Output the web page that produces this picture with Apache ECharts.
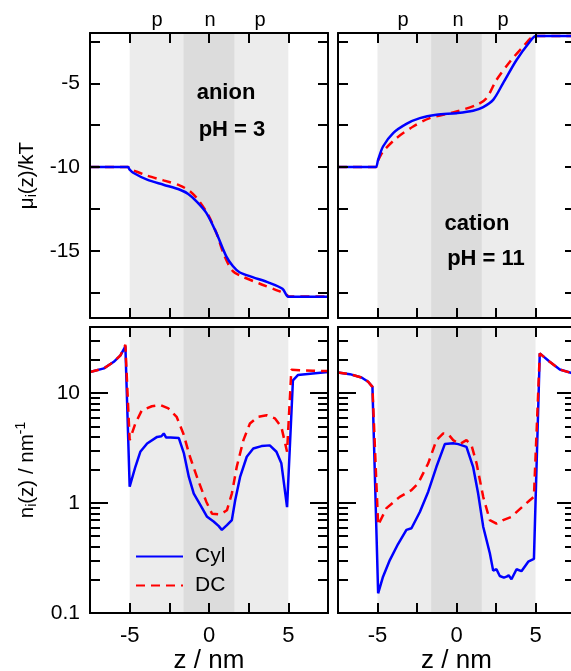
<!DOCTYPE html>
<html><head><meta charset="utf-8">
<script src="https://cdn.jsdelivr.net/npm/echarts@6.0.0/dist/echarts.min.js"></script>
<style>html,body{margin:0;padding:0;background:#fff}#c{width:571px;height:671px}</style>
</head><body><div id="c"></div><script>
// ---------- data ----------
const zRange = [-7.5, 7.5];
const muRange = [-19, -2];
const nRange = [0.1, 40];
const poreBand = [-5, 5];
const nBand = [-1.6, 1.6];
const xTickValues = [-5, -2.5, 0, 2.5, 5];
const xLabelValues = [-5, 0, 5];
const muTickValues = [-17.5, -15, -12.5, -10, -7.5, -5, -2.5];
const muLabelValues = [-15, -10, -5];
const nMajorValues = [0.1, 1, 10];
const nMinorValues = [0.2, 0.3, 0.4, 0.5, 0.6, 0.7, 0.8, 0.9, 2, 3, 4, 5, 6, 7, 8, 9, 20, 30];
const seriesNames = ['Cyl', 'DC'];

// anion, pH = 3, chemical potential
const zMuAnionCyl = [-7.5, -5.3, -5.1, -5.0, -4.75, -3.9, -2.87, -1.83, -1.31, -0.79, -0.17, 0.46, 1.08, 1.5, 1.92, 2.75, 3.8, 4.63, 5.0, 5.3, 7.5];
const muAnionCyl = [-10, -10, -10, -10.15, -10.35, -10.75, -11.05, -11.35, -11.6, -12.04, -12.73, -13.92, -15.31, -15.9, -16.27, -16.56, -16.9, -17.26, -17.73, -17.73, -17.73];
const zMuAnionDC = [-7.5, -5.3, -5.1, -5.0, -4.75, -3.9, -2.87, -1.83, -1.2, -0.69, -0.06, 0.46, 0.98, 1.5, 2.13, 3.17, 4.42, 4.94, 5.0, 5.3, 7.5];
const muAnionDC = [-10, -10, -10, -10.1, -10.2, -10.51, -10.79, -11.1, -11.44, -11.94, -12.83, -13.92, -15.31, -16.2, -16.54, -16.94, -17.4, -17.65, -17.72, -17.72, -17.72];

// cation, pH = 11, chemical potential
const zMuCationCyl = [-7.5, -5.3, -5.1, -4.96, -4.65, -4.01, -3.17, -2.32, -1.27, 0, 1.05, 1.69, 2.32, 2.95, 3.8, 4.64, 5.02, 5.3, 7.5];
const muCationCyl = [-10, -10, -10, -9.56, -8.77, -7.97, -7.42, -7.08, -6.88, -6.78, -6.64, -6.42, -5.99, -4.99, -3.61, -2.52, -2.18, -2.18, -2.18];
const zMuCationDC = [-7.5, -5.3, -5.1, -4.96, -4.65, -3.8, -2.74, -1.69, 0, 1.27, 1.9, 2.53, 3.38, 4.22, 4.9, 5.3, 7.5];
const muCationDC = [-10, -10, -10, -9.6, -9.07, -8.27, -7.58, -7.08, -6.68, -6.29, -5.89, -4.8, -3.71, -2.81, -2.2, -2.18, -2.18];

// anion density
const zNAnionCyl = [-7.5, -6.62, -6.0, -5.58, -5.27, -5.0, -4.64, -4.33, -3.9, -3.27, -3.0, -2.85, -2.7, -2.43, -1.9, -1.58, -1.27, -0.96, -0.54, -0.12, 0.29, 0.6, 0.81, 1.13, 1.44, 1.65, 1.96, 2.38, 2.79, 3.31, 3.83, 4.25, 4.56, 4.92, 5.29, 5.6, 6.54, 7.5];
const nAnionCyl = [15.6, 16.8, 19.3, 22.1, 26.7, 1.41, 2.14, 2.93, 3.49, 4.0, 4.05, 4.3, 3.95, 3.95, 3.9, 2.83, 1.73, 1.22, 0.96, 0.75, 0.68, 0.62, 0.57, 0.63, 0.70, 1.06, 1.73, 2.64, 3.14, 3.3, 3.35, 2.93, 2.3, 0.92, 13.1, 14.6, 15.1, 15.6];
const zNAnionDC = [-7.5, -6.62, -6.0, -5.58, -5.27, -5.0, -4.64, -4.23, -3.6, -3.08, -2.56, -2.04, -1.62, -1.2, -0.69, -0.17, 0.19, 0.71, 1.13, 1.44, 1.75, 2.17, 2.58, 3.1, 3.63, 4.15, 4.56, 4.92, 5.19, 5.71, 6.54, 7.5];
const nAnionDC = [15.6, 16.8, 19.3, 22.1, 27.5, 3.74, 5.3, 7.0, 7.6, 7.8, 7.26, 6.1, 4.3, 2.64, 1.62, 1.03, 0.8, 0.79, 0.86, 1.22, 2.14, 3.74, 5.3, 6.1, 6.3, 5.9, 4.94, 2.93, 16.3, 16.2, 16.0, 15.9];

// cation density
const zNCationCyl = [-7.5, -6.75, -6.01, -5.59, -5.32, -4.96, -4.65, -4.22, -3.7, -3.17, -2.85, -2.32, -1.79, -1.27, -0.74, -0.21, 0.11, 0.63, 1.05, 1.37, 1.69, 2.11, 2.32, 2.53, 2.74, 3.0, 3.17, 3.3, 3.48, 3.8, 4.11, 4.54, 4.9, 5.27, 5.9, 6.54, 7.24, 7.5];
const nCationCyl = [15.4, 14.9, 13.9, 12.7, 11.4, 0.151, 0.214, 0.303, 0.424, 0.57, 0.59, 0.83, 1.27, 2.14, 3.44, 3.5, 3.44, 3.25, 2.14, 1.22, 0.61, 0.35, 0.243, 0.25, 0.217, 0.21, 0.214, 0.22, 0.203, 0.25, 0.24, 0.293, 0.31, 23, 19.3, 16.4, 15.3, 15.1];
const zNCationDC = [-7.5, -6.75, -6.01, -5.59, -5.32, -4.96, -4.43, -3.59, -2.85, -2.43, -1.79, -1.27, -0.84, -0.53, -0.21, 0.21, 0.63, 0.95, 1.27, 1.69, 2.11, 2.53, 2.95, 3.48, 4.11, 4.64, 4.9, 5.27, 5.9, 6.54, 7.24, 7.5];
const nCationDC = [15.4, 14.9, 13.9, 12.7, 11.4, 0.63, 0.9, 1.14, 1.31, 1.51, 2.3, 3.74, 4.3, 4.25, 3.74, 3.44, 3.74, 3.35, 2.3, 1.14, 0.70, 0.65, 0.70, 0.75, 0.91, 1.06, 1.14, 23, 19.3, 16.4, 15.3, 15.1];

const regionLabels = ['p', 'n', 'p'];
const panelTexts = [['anion', 'pH = 3'], ['cation', 'pH = 11']];

// ---------- chart ----------
const FONT = '"Liberation Sans", Arial, Helvetica, sans-serif';
const BLACK = '#000';
const chart = echarts.init(document.getElementById('c'), null, {renderer: 'canvas'});

const grids = [
  {left: 90, top: 33, width: 238, height: 285},
  {left: 338, top: 33, width: 237, height: 285},
  {left: 90, top: 327, width: 238, height: 286},
  {left: 338, top: 327, width: 237, height: 286}
].map(g => Object.assign({containLabel: false, outerBoundsMode: 'none', show: false}, g));

const richName = {
  a: {fontSize: 20.5, fontFamily: FONT, color: BLACK},
  s: {fontSize: 14, fontFamily: FONT, color: BLACK, padding: [10, 0, 0, 0]},
  p: {fontSize: 14, fontFamily: FONT, color: BLACK, padding: [0, 0, 12, 0]}
};

function xAx(grid, pos, labels, name) {
  return {
    type: 'value', gridIndex: grid, position: pos, min: zRange[0], max: zRange[1], z: 5,
    axisLine: {show: true, onZero: false, lineStyle: {color: BLACK, width: 2}},
    axisTick: {show: true, inside: true, length: 10, customValues: xTickValues, lineStyle: {color: BLACK, width: 2}},
    axisLabel: {show: !!labels, customValues: labels || [], margin: 12, fontSize: 22, color: BLACK, fontFamily: FONT},
    splitLine: {show: false},
    name: name || '', nameLocation: 'middle', nameGap: 34,
    nameTextStyle: {fontSize: 26, color: BLACK, fontFamily: FONT}
  };
}
function muAx(grid, pos, labels, name) {
  return {
    type: 'value', gridIndex: grid, position: pos, min: muRange[0], max: muRange[1], z: 5,
    axisLine: {show: true, onZero: false, lineStyle: {color: BLACK, width: 2}},
    axisTick: {show: true, inside: true, length: 10, customValues: muTickValues, lineStyle: {color: BLACK, width: 2}},
    axisLabel: {show: !!labels, customValues: labels || [], margin: 10, fontSize: 21, color: BLACK, fontFamily: FONT},
    splitLine: {show: false},
    name: name || '', nameLocation: 'middle', nameGap: 51, nameRotate: 90,
    nameTextStyle: {color: BLACK, fontFamily: FONT, fontSize: 20.5, rich: richName}
  };
}
function nAx(grid, pos, major, labels, name) {
  return {
    type: 'log', logBase: 10, gridIndex: grid, position: pos, min: nRange[0], max: nRange[1], z: 5,
    axisLine: {show: true, onZero: false, lineStyle: {color: BLACK, width: 2}},
    axisTick: {show: true, inside: true, length: major ? 18 : 10, customValues: major ? nMajorValues : nMinorValues, lineStyle: {color: BLACK, width: 2}},
    axisLabel: {show: !!labels, customValues: labels || [], margin: 10, fontSize: 21, color: BLACK, fontFamily: FONT,
      formatter: v => String(+Number(v).toPrecision(3))},
    splitLine: {show: false}, minorTick: {show: false},
    name: name || '', nameLocation: 'middle', nameGap: 50, nameRotate: 90,
    nameTextStyle: {color: BLACK, fontFamily: FONT, fontSize: 20.5, rich: richName}
  };
}

const xAxes = [
  xAx(0, 'bottom'), xAx(0, 'top'),
  xAx(1, 'bottom'), xAx(1, 'top'),
  xAx(2, 'bottom', xLabelValues, 'z / nm'), xAx(2, 'top'),
  xAx(3, 'bottom', xLabelValues, 'z / nm'), xAx(3, 'top')
];
const yAxes = [
  muAx(0, 'left', muLabelValues, '{a|μ}{s|i}{a|(z)/kT}'), muAx(0, 'right'),
  muAx(1, 'left'), muAx(1, 'right'),
  nAx(2, 'left', true, nMajorValues, '{a|n}{s|i}{a|(z) / nm}{p|-1}'),
  nAx(2, 'left', false), nAx(2, 'right', true), nAx(2, 'right', false),
  nAx(3, 'left', true), nAx(3, 'left', false), nAx(3, 'right', true), nAx(3, 'right', false)
];

function zip(zs, vs) { return zs.map((z, i) => [z, vs[i]]); }
function shade(xi, yi) {
  return {
    type: 'line', xAxisIndex: xi, yAxisIndex: yi, data: [], silent: true, z: 1, symbol: 'none',
    markArea: {silent: true, z: 1, data: [
      [{xAxis: poreBand[0], itemStyle: {color: '#ececec'}}, {xAxis: poreBand[1]}],
      [{xAxis: nBand[0], itemStyle: {color: '#dcdcdc'}}, {xAxis: nBand[1]}]
    ]}
  };
}
function curve(name, zs, vs, xi, yi, smooth, zz) {
  const dc = name === 'DC';
  return {
    name: name, type: 'line', xAxisIndex: xi, yAxisIndex: yi, data: zip(zs, vs),
    symbol: 'none', smooth: smooth ? 0.3 : false,
    z: zz, animation: false,
    lineStyle: {color: dc ? '#ff0000' : '#0000ff', width: 2.5, type: dc ? [9, 6] : 'solid'},
    itemStyle: {color: dc ? '#ff0000' : '#0000ff'}
  };
}

const series = [
  shade(0, 0), shade(2, 2), shade(4, 4), shade(6, 8),
  curve('DC', zMuAnionDC, muAnionDC, 0, 0, true, 3),
  curve('Cyl', zMuAnionCyl, muAnionCyl, 0, 0, true, 4),
  curve('DC', zMuCationDC, muCationDC, 2, 2, true, 3),
  curve('Cyl', zMuCationCyl, muCationCyl, 2, 2, true, 4),
  curve('Cyl', zNAnionCyl, nAnionCyl, 4, 4, false, 3),
  curve('DC', zNAnionDC, nAnionDC, 4, 4, false, 4),
  curve('Cyl', zNCationCyl, nCationCyl, 6, 8, false, 3),
  curve('DC', zNCationDC, nCationDC, 6, 8, false, 4)
];

function txt(x, y, s, size, bold) {
  return {type: 'text', x: x, y: y, z: 10, silent: true,
    style: {text: s, fill: BLACK, font: (bold ? 'bold ' : '') + size + 'px ' + FONT,
            align: 'center', verticalAlign: 'middle', textAlign: 'center', textVerticalAlign: 'middle'}};
}
const graphic = [
  txt(157, 20, regionLabels[0], 20), txt(210, 20, regionLabels[1], 20), txt(260, 20, regionLabels[2], 20),
  txt(403, 20, regionLabels[0], 20), txt(458, 20, regionLabels[1], 20), txt(503, 20, regionLabels[2], 20),
  txt(226, 93, panelTexts[0][0], 22, true), txt(232, 130, panelTexts[0][1], 22, true),
  txt(477, 224, panelTexts[1][0], 22, true), txt(486, 259, panelTexts[1][1], 22, true)
];

chart.setOption({
  animation: false,
  backgroundColor: '#fff',
  grid: grids,
  xAxis: xAxes,
  yAxis: yAxes,
  legend: {
    data: seriesNames, orient: 'vertical', left: 130, top: 541, itemWidth: 47, itemHeight: 14, itemGap: 8,
    selectedMode: false, itemStyle: {opacity: 0},
    textStyle: {fontSize: 21, fontFamily: FONT, color: BLACK, padding: [0, 0, 0, 7]}
  },
  graphic: graphic,
  series: series
});
</script></body></html>
